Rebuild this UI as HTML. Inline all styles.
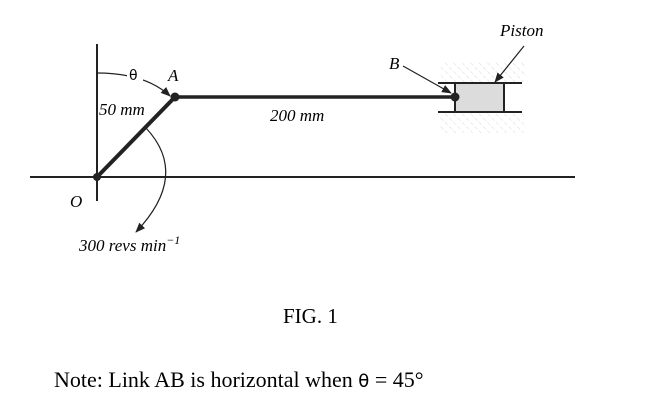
<!DOCTYPE html>
<html><head><style>
body{margin:0;background:#fff;width:665px;height:412px;overflow:hidden}
svg{position:absolute;left:0;top:0}
.i{font-family:"Liberation Serif",serif;font-style:italic;font-size:17px}
.r{font-family:"Liberation Serif",serif;font-size:21px}
</style></head><body>
<svg width="665" height="412" viewBox="0 0 665 412">
<defs>
<pattern id="h" width="6" height="6" patternUnits="userSpaceOnUse" patternTransform="rotate(-45)">
<line x1="0" y1="0" x2="0" y2="6" stroke="#ccc" stroke-width="0.8" stroke-dasharray="3 2"/>
</pattern>
<marker id="ar" markerWidth="10" markerHeight="8" refX="9" refY="4" orient="auto" markerUnits="userSpaceOnUse">
<path d="M0,0 L10,4 L0,8 Z" fill="#222"/></marker>
</defs>
<rect x="440" y="62" width="86" height="20" fill="url(#h)"/>
<rect x="440" y="113" width="86" height="20" fill="url(#h)"/>
<line x1="97" y1="44" x2="97" y2="201" stroke="#222" stroke-width="2"/>
<line x1="30" y1="177" x2="575" y2="177" stroke="#222" stroke-width="2"/>
<line x1="97" y1="177" x2="175" y2="97" stroke="#222" stroke-width="4"/>
<line x1="175" y1="97" x2="455" y2="97" stroke="#222" stroke-width="3.5"/>
<line x1="438" y1="83" x2="522" y2="83" stroke="#222" stroke-width="2"/>
<line x1="438" y1="112" x2="522" y2="112" stroke="#222" stroke-width="2"/>
<rect x="455" y="83" width="49" height="29" fill="#dcdcdc" stroke="#222" stroke-width="2"/>
<circle cx="97" cy="177" r="4" fill="#222"/>
<circle cx="175" cy="97" r="4.5" fill="#222"/>
<circle cx="455" cy="97" r="4.5" fill="#222"/>
<path d="M97,73 Q145,73 170,96" fill="none" stroke="#222" stroke-width="1.2" marker-end="url(#ar)"/>
<path d="M146,128 Q190,175 136,232" fill="none" stroke="#222" stroke-width="1.2" marker-end="url(#ar)"/>
<line x1="403" y1="66" x2="451" y2="93" stroke="#222" stroke-width="1.2" marker-end="url(#ar)"/>
<line x1="524" y1="46" x2="495" y2="82" stroke="#222" stroke-width="1.2" marker-end="url(#ar)"/>
<rect x="127" y="66" width="16" height="16" fill="#fff"/>
<text x="129" y="80" font-family="DejaVu Sans,sans-serif" font-size="14">θ</text>
<text x="168" y="81" class="i">A</text>
<text x="99" y="115" class="i">50 mm</text>
<text x="270" y="121" class="i">200 mm</text>
<text x="70" y="207" class="i">O</text>
<text x="389" y="69" class="i">B</text>
<text x="500" y="36" class="i">Piston</text>
<text x="79" y="251" class="i">300 revs min<tspan dy="-7" font-size="12">−1</tspan></text>
<text x="283" y="323" class="r">FIG. 1</text>
<text x="54" y="387" class="r" font-size="22" style="font-size:22px">Note: Link AB is horizontal when <tspan font-family="DejaVu Sans,sans-serif" font-size="18">θ</tspan>  =  45°</text>
</svg>
</body></html>
